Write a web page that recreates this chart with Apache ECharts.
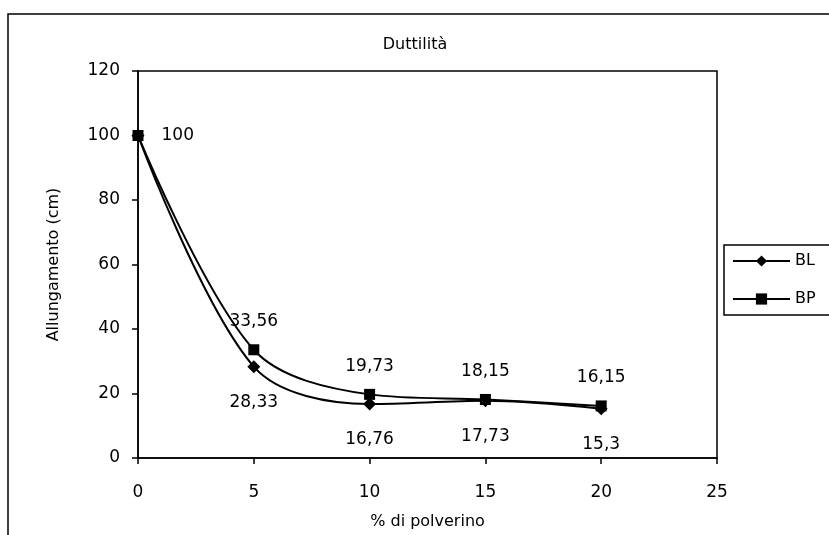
<!DOCTYPE html>
<html>
<head>
<meta charset="utf-8">
<script src="https://cdn.jsdelivr.net/npm/echarts@6/dist/echarts.min.js"></script>
<style>
  html, body { margin: 0; padding: 0; background: #fff; }
  #chart { width: 829px; height: 535px; }
</style>
</head>
<body>
<div id="chart"></div>
<script>
// Powder percentage on the x axis
const percentPolverino = [0, 5, 10, 15, 20];
// Elongation (cm) per mix
const seriesBL = [100, 28.33, 16.76, 17.73, 15.3];
const seriesBP = [100, 33.56, 19.73, 18.15, 16.15];
const seriesNames = ['BL', 'BP'];
const xTicks = [0, 5, 10, 15, 20, 25];
const yTicks = [0, 20, 40, 60, 80, 100, 120];

const FONT = 'DejaVu Sans';
const fmt = v => String(v).replace('.', ',');

function pairs(values) {
  return percentPolverino.map((x, i) => [x, values[i]]);
}

// BL labels sit under the marks, BP labels above; the shared first point
// is labelled once, to its right.
function labelledData(values, position, distance, showFirst) {
  return pairs(values).map((p, i) => {
    if (i === 0) {
      return {
        value: p,
        label: showFirst
          ? { show: true, position: 'right', distance: 18 }
          : { show: false }
      };
    }
    return { value: p, label: { show: true, position, distance } };
  });
}

const chart = echarts.init(document.getElementById('chart'), null, { renderer: 'canvas' });

const baseLabel = {
  color: '#000',
  fontFamily: FONT,
  fontSize: 17,
  formatter: p => fmt(p.value[1])
};

chart.setOption({
  animation: false,
  backgroundColor: '#fff',
  title: {
    text: 'Duttilità',
    left: 410,
    textAlign: 'center',
    top: 32,
    textStyle: { fontFamily: FONT, fontSize: 16, fontWeight: 'normal', color: '#000' }
  },
  graphic: [{
    type: 'rect',
    shape: { x: 8, y: 14, width: 900, height: 600 },
    style: { fill: 'none', stroke: '#000', lineWidth: 1.5 },
    silent: true,
    z: -1
  }],
  legend: {
    orient: 'vertical',
    left: 724,
    top: 245,
    data: seriesNames,
    itemWidth: 57,
    itemHeight: 14,
    itemGap: 22,
    padding: [8, 30, 8, 8],
    borderColor: '#000',
    borderWidth: 1.5,
    backgroundColor: '#fff',
    textStyle: { fontFamily: FONT, fontSize: 16, color: '#000' }
  },
  grid: {
    left: 138,
    top: 71,
    right: 112,
    bottom: 70,
    show: true,
    borderColor: '#000',
    borderWidth: 1.5,
    backgroundColor: 'transparent'
  },
  xAxis: {
    type: 'value',
    min: xTicks[0],
    max: xTicks[xTicks.length - 1],
    interval: xTicks[1] - xTicks[0],
    name: '% di polverino',
    nameLocation: 'middle',
    nameGap: 56,
    nameTextStyle: { fontFamily: FONT, fontSize: 16, color: '#000' },
    axisLine: { lineStyle: { color: '#000', width: 1.5 } },
    axisTick: { inside: false, length: 6, lineStyle: { color: '#000', width: 1.5 } },
    axisLabel: { fontFamily: FONT, fontSize: 17, color: '#000', margin: 26 },
    splitLine: { show: false }
  },
  yAxis: {
    type: 'value',
    min: yTicks[0],
    max: yTicks[yTicks.length - 1],
    interval: yTicks[1] - yTicks[0],
    name: 'Allungamento (cm)',
    nameLocation: 'middle',
    nameGap: 76,
    nameTextStyle: { fontFamily: FONT, fontSize: 16, color: '#000' },
    axisLine: { show: true, lineStyle: { color: '#000', width: 1.5 } },
    axisTick: { show: true, inside: false, length: 6, lineStyle: { color: '#000', width: 1.5 } },
    axisLabel: { fontFamily: FONT, fontSize: 17, color: '#000', margin: 18 },
    splitLine: { show: false }
  },
  series: [
    {
      name: seriesNames[0],
      type: 'line',
      smooth: 0.33,
      symbol: 'diamond',
      symbolSize: 13,
      itemStyle: { color: '#000' },
      lineStyle: { color: '#000', width: 2 },
      label: baseLabel,
      data: labelledData(seriesBL, 'bottom', 21, false),
      z: 3
    },
    {
      name: seriesNames[1],
      type: 'line',
      smooth: 0.33,
      symbol: 'rect',
      symbolSize: 11,
      itemStyle: { color: '#000' },
      lineStyle: { color: '#000', width: 2 },
      label: baseLabel,
      data: labelledData(seriesBP, 'top', 14, true),
      z: 4
    }
  ]
});
</script>
</body>
</html>
